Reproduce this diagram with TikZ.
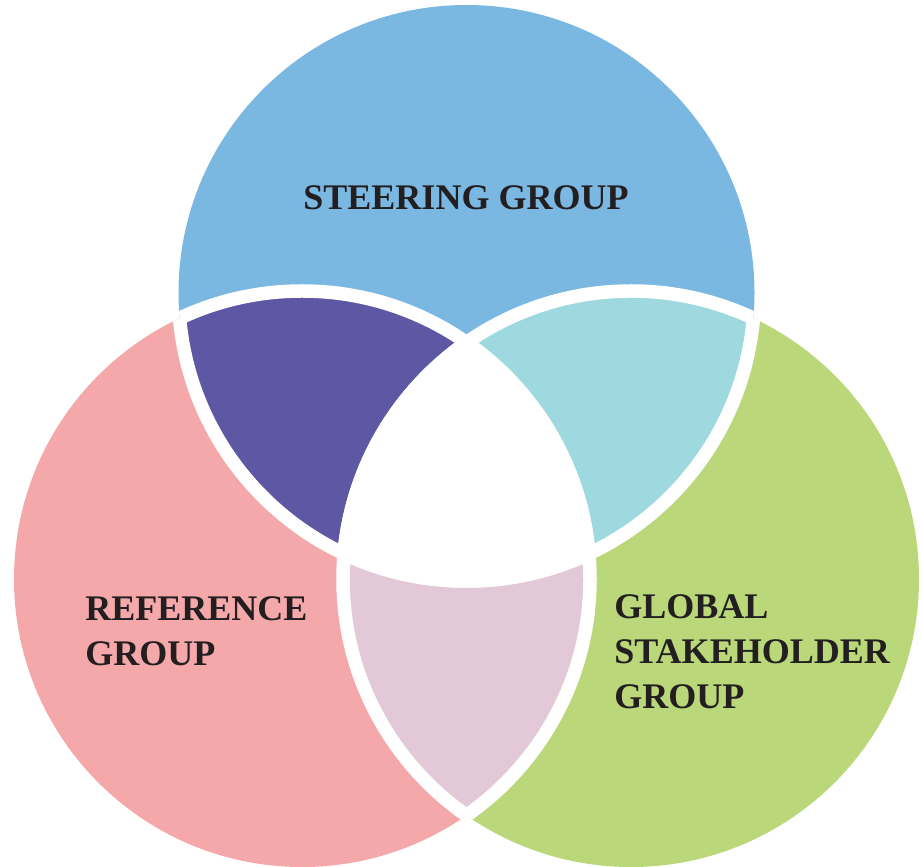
\documentclass[tikz,border=0pt]{standalone}
\usepackage{fontspec}
\setmainfont{Liberation Serif}
\usepackage{tikz}

\definecolor{steerblue}{HTML}{7AB8E2}
\definecolor{refpink}{HTML}{F5A8AA}
\definecolor{globgreen}{HTML}{BAD779}
\definecolor{steerref}{HTML}{5E58A4}
\definecolor{steerglob}{HTML}{9FD9E0}
\definecolor{refglob}{HTML}{E3C9D7}
\definecolor{labeltext}{HTML}{231F20}

\tikzset{
  label text/.style={text=labeltext, font=\fontsize{20.5}{25.6}\selectfont\bfseries, inner sep=0pt},
  rim/.style={draw=white, line width=0.27cm}
}

\begin{document}
\begin{tikzpicture}[x=0.02cm,y=0.02cm]
  \useasboundingbox (0,0) rectangle (923,866);
  %\draw[very thin,color=gray] (0,0) grid[step=50] (923,866);
  \coordinate (steer) at (466.5,573);
  \coordinate (ref) at (302,287);
  \coordinate (glob) at (631,287);

  \fill[steerblue] (steer) circle (288);
  \fill[refpink] (ref) circle (288);
  \fill[globgreen] (glob) circle (288);

  % overlaps
  \begin{scope}
    \clip (steer) circle (288);
    \fill[steerref] (ref) circle (288);
    \fill[steerglob] (glob) circle (288);
  \end{scope}
  \begin{scope}
    \clip (ref) circle (288);
    \fill[refglob] (glob) circle (288);
    \clip (glob) circle (288);
    \fill[white] (steer) circle (288);
  \end{scope}

  % white rims, only where circles overlap
  \begin{scope}
    \clip (steer) circle (288);
    \draw[rim] (ref) circle (288);
    \draw[rim] (glob) circle (288);
  \end{scope}
  \begin{scope}
    \clip (ref) circle (288);
    \draw[rim] (steer) circle (288);
    \draw[rim] (glob) circle (288);
  \end{scope}
  \begin{scope}
    \clip (glob) circle (288);
    \draw[rim] (steer) circle (288);
    \draw[rim] (ref) circle (288);
  \end{scope}

  \node[label text, anchor=base] (steerlabel) at (466,656) {STEERING GROUP};
  \node[label text, anchor=north west, align=left] (reflabel) at (85,270)
    {REFERENCE\\GROUP};
  \node[label text, anchor=north west, align=left] (globlabel) at (614,272)
    {GLOBAL\\STAKEHOLDER\\GROUP};
\end{tikzpicture}
\end{document}
